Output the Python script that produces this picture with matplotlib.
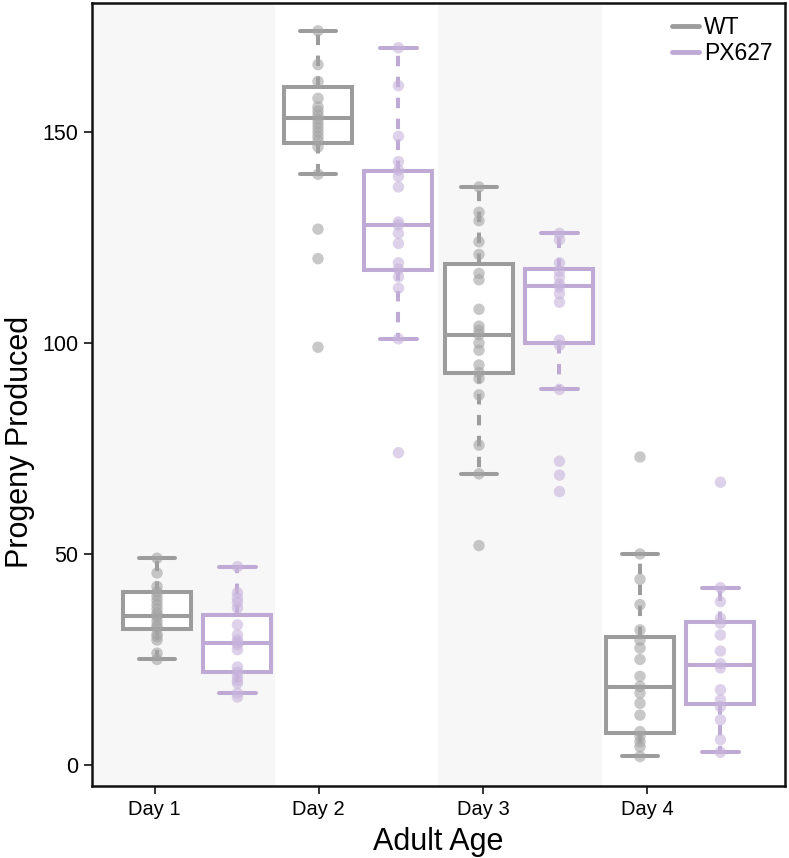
import matplotlib
matplotlib.use("Agg")
import matplotlib.pyplot as plt
from matplotlib.lines import Line2D

plt.rcParams['font.family'] = ['Liberation Sans', 'DejaVu Sans']

days = ["Day 1", "Day 2", "Day 3", "Day 4"]
groups = ["WT", "PX627"]

# raw points
wt_points = [
    [49, 45.5, 42.3, 41, 40, 39, 38, 37, 36, 35.5, 35, 34, 33, 32.5, 31, 30.4, 29.6, 26.5, 25],
    [174, 166, 162, 158, 156, 155, 154, 153, 152, 151, 150, 149, 148, 146.5, 140, 127, 120, 99],
    [137, 131, 129, 124, 121, 116.5, 115, 108, 104, 103, 102, 100, 98.3, 94.8, 93, 91.6, 87.7, 75.8, 69, 52],
    [73, 50, 44, 38, 32, 29.6, 27.7, 25, 21, 18.6, 17, 14.6, 11.8, 7.9, 6.7, 5.5, 4.3, 2],
]
px_points = [
    [47, 40.8, 39.5, 38.5, 37.2, 33.2, 30.8, 29.6, 29, 28.5, 27.3, 23.2, 22, 21, 20, 19.4, 17, 16.1],
    [170, 161, 149, 143, 141, 139.5, 137, 128.7, 128, 126, 123.6, 119, 117.5, 115.7, 113, 101, 74],
    [126, 124.5, 119, 117, 115.6, 114, 113.3, 111.7, 109.7, 100.7, 99.5, 89, 72, 68.7, 64.8],
    [67, 42, 38.7, 34.8, 33.6, 30.8, 27, 24, 23, 17.8, 15.4, 13.8, 10.7, 6, 3],
]

# box statistics: whisker low, q1, median, q3, whisker high
wt_whislo = [25, 140, 69, 2]
wt_q1 = [32.3, 147.3, 93, 7.5]
wt_med = [35.3, 153.3, 102, 18.4]
wt_q3 = [41, 160.8, 118.8, 30.3]
wt_whishi = [49, 174, 137, 50]

px_whislo = [17, 101, 89, 3]
px_q1 = [22, 117.3, 100, 14.5]
px_med = [29, 128, 113.5, 23.8]
px_q3 = [35.5, 140.8, 117.5, 33.8]
px_whishi = [47, 170, 126, 42]

yticks = [0, 50, 100, 150]

WT_LINE = "#9c9c9c"
PX_LINE = "#bfa9d5"
WT_PT = "#a4a4a4"
PX_PT = "#c8b4dc"
BAND = "#f7f7f7"

fig = plt.figure(figsize=(7.89, 8.58), dpi=100)
ax = fig.add_axes([0.1166, 0.0839, 0.8784, 0.9126])

tick_pos = [1, 2, 3, 4]
wt_pos = [0.0345 + 0.9805 * d for d in tick_pos]
px_pos = [p + 0.49 for p in wt_pos]

xmin, xmax = 0.619, 4.84
ax.axvspan(xmin, 1.733, color=BAND, zorder=0, lw=0)
ax.axvspan(2.728, 3.726, color=BAND, zorder=0, lw=0)


def make_stats(lo, q1, med, q3, hi):
    return [dict(whislo=a, q1=b, med=c, q3=d, whishi=e, fliers=[])
            for a, b, c, d, e in zip(lo, q1, med, q3, hi)]


lw = 2.9
for stats, pos, col in [
    (make_stats(wt_whislo, wt_q1, wt_med, wt_q3, wt_whishi), wt_pos, WT_LINE),
    (make_stats(px_whislo, px_q1, px_med, px_q3, px_whishi), px_pos, PX_LINE),
]:
    ax.bxp(stats, positions=pos, widths=0.414, showfliers=False,
           patch_artist=True, manage_ticks=False,
           boxprops=dict(facecolor="white", edgecolor=col, linewidth=lw),
           medianprops=dict(color=col, linewidth=lw, solid_capstyle="butt"),
           whiskerprops=dict(color=col, linewidth=lw, linestyle=(0, (2.6, 2.6))),
           capprops=dict(color=col, linewidth=lw, solid_capstyle="round"),
           capwidths=0.22, zorder=2)

for pts_list, pos, col in [(wt_points, wt_pos, WT_PT), (px_points, px_pos, PX_PT)]:
    for p, vals in zip(pos, pts_list):
        ax.scatter([p] * len(vals), vals, s=68, color=col, alpha=0.6,
                   edgecolors="none", zorder=3)

ax.set_xlim(xmin, xmax)
ax.set_ylim(-5, 180.6)
ax.set_xticks(tick_pos)
ax.set_xticklabels(days, fontsize=14.5)
ax.set_yticks(yticks)
ax.set_yticklabels([str(t) for t in yticks], fontsize=15.5)
ax.tick_params(length=6, width=1.4, color="#333333", pad=4)
for s in ax.spines.values():
    s.set_linewidth(1.8)
    s.set_color("#111111")

ax.set_xlabel("Adult Age", fontsize=22)
ax.xaxis.set_label_coords(0.5, -0.052)
ax.set_ylabel("Progeny Produced", fontsize=22)
ax.yaxis.set_label_coords(-0.082, 0.44)

handles = [Line2D([0], [0], color=WT_LINE, lw=3.5, solid_capstyle="round"),
           Line2D([0], [0], color=PX_LINE, lw=3.5, solid_capstyle="round")]
ax.legend(handles, groups, loc="upper right", frameon=False, fontsize=16.5,
          handlelength=1.2, handletextpad=0.2, borderaxespad=0.15,
          labelspacing=0.15)

fig.savefig("out.png", dpi=100)
